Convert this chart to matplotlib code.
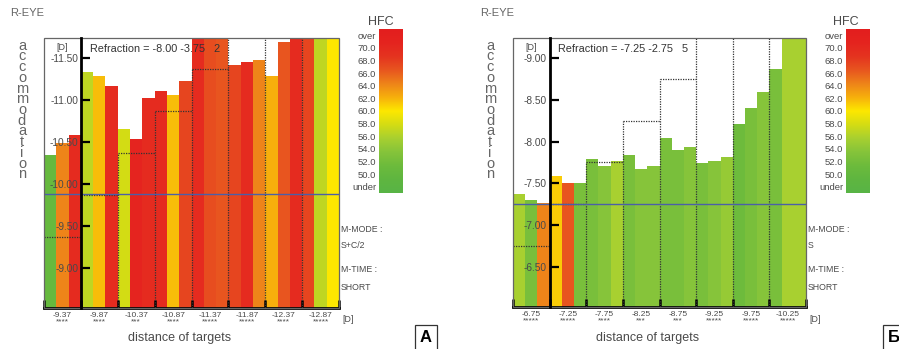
import numpy as np
import matplotlib
matplotlib.use('Agg')
import matplotlib.pyplot as plt
from matplotlib.colors import LinearSegmentedColormap, Normalize
from matplotlib.patches import Rectangle

plt.rcParams['font.family'] = ['Liberation Sans', 'DejaVu Sans']

W, H = 899, 349

# HFC scale (top -> bottom)
hfc_labels = ['over', '70.0', '68.0', '66.0', '64.0', '62.0', '60.0',
              '58.0', '56.0', '54.0', '52.0', '50.0', 'under']
hfc_colors = ['#e31e1e', '#e5241f', '#e4341f', '#e8561f', '#ee8419', '#f7b00c', '#fde800',
              '#d4dc14', '#a8d030', '#86c43a', '#6dbb3c', '#5fb640', '#58b446']

# panel A
a_targets = [-9.37, -9.87, -10.37, -10.87, -11.37, -11.87, -12.37, -12.87]
a_stars = ['****', '****', '***', '****', '*****', '*****', '****', '*****']
a_acc = [[-10.35, -10.49, -10.58], [-11.34, -11.29, -11.17], [-10.66, -10.54, -11.02],
         [-11.11, -11.06, -11.23], [-11.80, -11.85, -11.82], [-11.42, -11.45, -11.48],
         [-11.29, -11.69, -11.95], [-12.10, -12.05, -12.00]]
a_hfc = [[51, 64, 69], [57, 61.5, 69], [58, 70, 69], [69, 61.5, 67],
         [69, 66.5, 66], [67, 69, 64], [62, 66, 69], [67, 57, 60]]
a_refr = 'Refraction = -8.00 -3.75   2'
a_line = -9.875
a_mode = 'S+C/2'
a_yticks = [-11.5, -11.0, -10.5, -10.0, -9.5, -9.0]
a_ylim = (-8.52, -11.74)

# panel B
b_targets = [-6.75, -7.25, -7.75, -8.25, -8.75, -9.25, -9.75, -10.25]
b_stars = ['*****', '*****', '****', '***', '***', '*****', '*****', '*****']
b_acc = [[-7.37, -7.30, -7.26], [-7.59, -7.50, -7.50], [-7.79, -7.71, -7.77],
         [-7.84, -7.67, -7.71], [-8.04, -7.90, -7.94], [-7.74, -7.77, -7.81],
         [-8.21, -8.40, -8.59], [-8.87, -9.30, -9.35]]
b_hfc = [[56, 53, 64], [61, 66, 53], [53, 54, 56], [53, 54, 54],
         [53, 53, 54], [53, 54, 55], [52, 53, 54], [53, 56, 56]]
b_refr = 'Refraction = -7.25 -2.75   5'
b_line = -7.25
b_mode = 'S'
b_yticks = [-9.0, -8.5, -8.0, -7.5, -7.0, -6.5]
b_ylim = (-6.02, -9.24)

cmap = LinearSegmentedColormap.from_list('hfc', hfc_colors[::-1])
norm = Normalize(48, 72)
txt = '#4a4a4a'


def rect(l, t, r, b):
    return [l / W, 1 - b / H, (r - l) / W, (b - t) / H]


def ftext(fig, x, y, s, **kw):
    kw.setdefault('color', txt)
    return fig.text(x / W, 1 - y / H, s, **kw)


def panel(fig, pos, targets, stars, acc, hfc, refr, line, mode, yticks, ylim, letter):
    x0 = pos['ax'][0]
    ax = fig.add_axes(rect(*pos['ax']))
    for i, grp in enumerate(acc):
        for j, v in enumerate(grp):
            ax.bar(i + j / 3, v - ylim[0], bottom=ylim[0], width=1 / 3, align='edge',
                   color=cmap(norm(hfc[i][j])), linewidth=0, zorder=1)
    # target staircase
    for i, t in enumerate(targets):
        ax.hlines(t, i, i + 1, colors='#333333', linestyles=(0, (1, 1)), lw=0.9, zorder=3)
        if i > 0:
            ax.vlines(i, ylim[0], min(targets[i - 1], t), colors='#333333',
                      linestyles=(0, (1, 1)), lw=0.9, zorder=3)
    ax.axhline(line, color='#4b5fa8', lw=1, zorder=4)
    ax.set_xlim(0, 8)
    ax.set_ylim(*ylim)

    ax.spines['top'].set_visible(False)
    ax.spines['right'].set_visible(False)
    ax.spines['left'].set_position(('data', 1))
    ax.spines['left'].set_linewidth(2)
    ax.spines['bottom'].set_linewidth(2)
    ax.spines['left'].set_zorder(6)
    ax.add_patch(Rectangle((0, 0), 1, 1, transform=ax.transAxes, fill=False,
                           ec='#666666', lw=0.9, clip_on=False, zorder=5))

    ax.set_yticks(yticks)
    ax.set_yticklabels([f'{v:.2f}' for v in yticks])
    ax.tick_params(axis='y', direction='in', length=6.5, width=1.6, pad=2,
                   labelsize=7.3, labelcolor=txt)
    ax.set_xticks(range(9))
    ax.set_xticklabels([])
    ax.set_xticks(np.arange(8) + 0.5, minor=True)
    ax.set_xticklabels([f'{t:.2f}\n{s}' for t, s in zip(targets, stars)], minor=True)
    ax.tick_params(axis='x', which='major', direction='in', length=6, width=1.8)
    ax.tick_params(axis='x', which='minor', length=0, pad=3, labelsize=6,
                   labelcolor=txt)
    for lab in ax.get_xticklabels(minor=True):
        lab.set_linespacing(0.75)

    ftext(fig, x0 + 18, 47, '[D]', fontsize=6.5, ha='center', va='center')
    ftext(fig, pos['refr'], 49, refr, fontsize=7.8, va='center', color='#333333', zorder=10)

    # colour scale
    cax = fig.add_axes(rect(*pos['cb']))
    cax.imshow(np.linspace(72, 48, 256)[:, None], cmap=cmap, norm=norm, aspect='auto',
               extent=(0, 1, 0, 13))
    cax.set_xticks([])
    cax.set_yticks(np.arange(13) + 0.5)
    cax.set_yticklabels(hfc_labels[::-1])
    cax.tick_params(axis='y', length=0, pad=2, labelsize=6.8, labelcolor=txt)
    for s in cax.spines.values():
        s.set_visible(False)
    ftext(fig, pos['hfc'], 22, 'HFC', fontsize=9, ha='center', va='center')

    ftext(fig, pos['eye'], 13, 'R-EYE', fontsize=8, va='center', color='#666666')
    ftext(fig, pos['acc'], 110, '\n'.join('accommodation'), fontsize=10.5, ha='center',
          va='center', linespacing=0.7, color='#666666')
    sx = pos['ax'][2] + 2
    for y, s in zip([229, 246, 270, 287], ['M-MODE :', mode, 'M-TIME :', 'SHORT']):
        ftext(fig, sx, y, s, fontsize=6.3, va='center')
    ftext(fig, sx + 1, 319, '[D]', fontsize=6.3, va='center')
    ftext(fig, pos['xl'], 338, 'distance of targets', fontsize=9, ha='center', va='center')
    ftext(fig, pos['box'], 337, letter, fontsize=12, fontweight='bold', ha='left',
          va='center', color='black',
          bbox=dict(boxstyle='square,pad=0.3', fc='white', ec='#333333', lw=0.9))


fig = plt.figure(figsize=(W / 100, H / 100), dpi=100)
panel(fig, dict(ax=(44, 38, 339, 308), cb=(379, 29, 403, 193), hfc=381, refr=90,
                eye=10, acc=22, xl=180, box=420),
      a_targets, a_stars, a_acc, a_hfc, a_refr, a_line, a_mode, a_yticks, a_ylim, 'А')
panel(fig, dict(ax=(513, 38, 806, 307), cb=(846, 29, 870, 193), hfc=846, refr=558,
                eye=480, acc=490, xl=648, box=888),
      b_targets, b_stars, b_acc, b_hfc, b_refr, b_line, b_mode, b_yticks, b_ylim, 'Б')

fig.savefig('out.png', dpi=100)
